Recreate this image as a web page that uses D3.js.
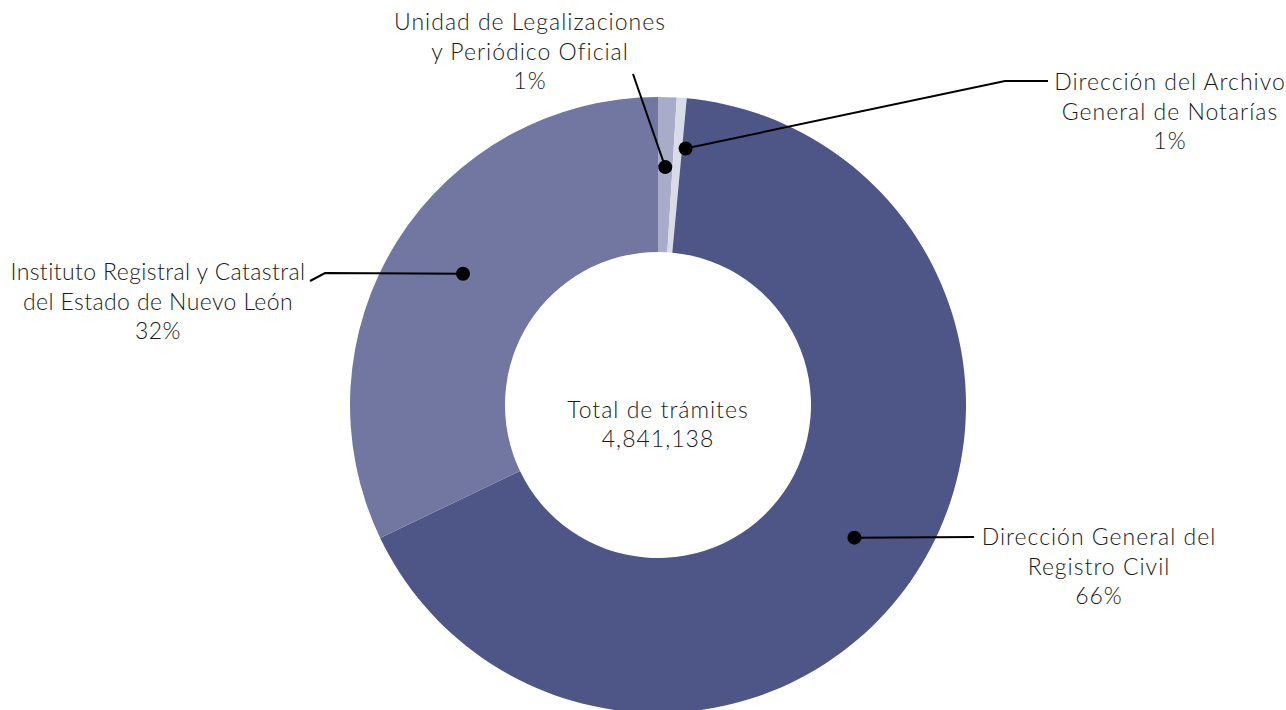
<!DOCTYPE html>
<html>
<head>
<meta charset="utf-8">
<script src="https://cdn.jsdelivr.net/npm/d3@7"></script>
<style>
  body { margin: 0; background: #fff; }
  svg text { font-family: Lato, "Open Sans", sans-serif; font-weight: 300; fill: #1a1a1a; letter-spacing: 1px; }
</style>
</head>
<body>
<div id="chart"></div>
<script>
// datos del gráfico
const categories = [
  "Unidad de Legalizaciones y Periódico Oficial",
  "Dirección del Archivo General de Notarías",
  "Dirección General del Registro Civil",
  "Instituto Registral y Catastral del Estado de Nuevo León"
];
const values = [47000, 25000, 3215000, 1554138];
const labelLines = [
  ["Unidad de Legalizaciones", "y Periódico Oficial"],
  ["Dirección del Archivo", "General de Notarías"],
  ["Dirección General del", "Registro Civil"],
  ["Instituto Registral y Catastral", "del Estado de Nuevo León"]
];
const colors = ["#a9acc9", "#d9dbe8", "#4e5688", "#7277a2"];
const centerTitle = "Total de trámites";

const width = 1286, height = 710;
const cx = 658, cy = 405;
const outerR = 308, innerR = 153;

// posición de etiquetas y guías (layout)
const labelLayout = [
  { x: 530, y: 22, dotR: 238, dAng: 0, ls: 1, path: [[633, 74]] },
  { x: 1170, y: 82, dotR: 258, dAng: 0.03, ls: 1, path: [[1005, 81], [1048, 81]] },
  { x: 1099, y: 537, dotR: 237, dAng: -0.015, ls: 1, path: [[974, 537]] },
  { x: 158, y: 272, dotR: 235, dAng: 0.03, ls: 0.4, path: [[325, 273], [310, 281]] }
];

const total = d3.sum(values);
const pct = d3.format(".0%");
const fmt = d3.format(",");

const svg = d3.select("#chart").append("svg")
  .attr("width", width)
  .attr("height", height);

const g = svg.append("g").attr("transform", `translate(${cx},${cy})`);

const pie = d3.pie().sort(null).value(d => d);
const arcs = pie(values);

const arc = d3.arc().innerRadius(innerR).outerRadius(outerR);

g.selectAll("path.slice")
  .data(arcs)
  .enter()
  .append("path")
  .attr("class", "slice")
  .attr("d", arc)
  .attr("fill", (d, i) => colors[i]);

// guías y puntos
arcs.forEach((d, i) => {
  const L = labelLayout[i];
  const a = (d.startAngle + d.endAngle) / 2 + L.dAng;
  const px = cx + L.dotR * Math.sin(a);
  const py = cy - L.dotR * Math.cos(a);
  const pts = [[px, py]].concat(L.path);
  svg.append("path")
    .attr("d", d3.line()(pts))
    .attr("fill", "none")
    .attr("stroke", "#000")
    .attr("stroke-width", 2);
  svg.append("circle")
    .attr("cx", px).attr("cy", py)
    .attr("r", 7)
    .attr("fill", "#000");

  const lines = labelLines[i].concat([pct(d.data / total)]);
  const t = svg.append("text")
    .attr("text-anchor", "middle")
    .attr("font-size", 23)
    .style("letter-spacing", L.ls + "px");
  lines.forEach((s, k) => {
    t.append("tspan")
      .attr("x", L.x)
      .attr("y", L.y + k * 29.5)
      .attr("dy", "0.35em")
      .text(s);
  });
});

// texto central
const ct = svg.append("text")
  .attr("text-anchor", "middle")
  .attr("font-size", 23);
[centerTitle, fmt(total)].forEach((s, k) => {
  ct.append("tspan")
    .attr("x", cx)
    .attr("y", 410 + k * 28.5)
    .attr("dy", "0.35em")
    .text(s);
});
</script>
</body>
</html>
